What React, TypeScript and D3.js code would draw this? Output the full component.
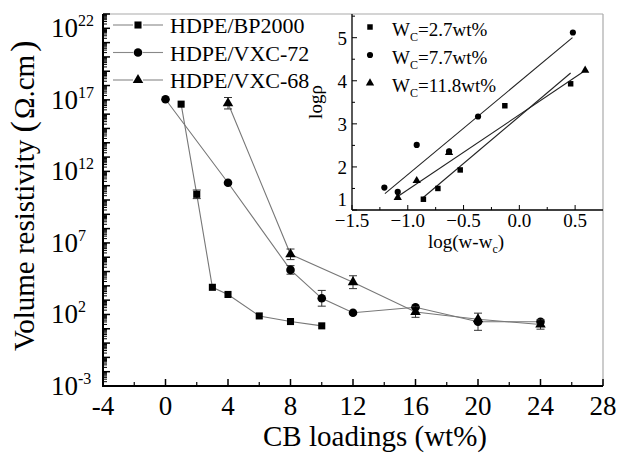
import React from "react";
import * as d3 from "d3";

// --- main chart data (volume resistivity, ohm.cm) ---
const bpX = [1, 2, 3, 4, 6, 8, 10];
const bpY = [5.0e16, 2.5e10, 7.9e3, 2.5e3, 79, 32, 16];
const bpErr = [0, 0.3, 0, 0, 0, 0, 0]; // decades

const v72X = [0, 4, 8, 10, 12, 16, 20, 24];
const v72Y = [1.1e17, 1.6e11, 1.3e5, 1.35e3, 132, 316, 31, 31];
const v72Err = [0, 0, 0.3, 0.55, 0, 0, 0.6, 0];

const v68X = [4, 8, 12, 16, 20, 24];
const v68Y = [5.8e16, 1.6e6, 1.8e4, 148, 46, 20];
const v68Err = [0.4, 0.37, 0.45, 0.37, 0, 0.33];

const xTicks = [-4, 0, 4, 8, 12, 16, 20, 24, 28];
const yTickExp = [-3, 2, 7, 12, 17, 22];

// --- inset data (log rho vs log(w - wc)) ---
const sqX = [-0.86, -0.73, -0.53, -0.13, 0.46];
const sqY = [1.25, 1.5, 1.93, 3.42, 3.93];
const ciX = [-1.21, -1.09, -0.92, -0.63, -0.37, 0.48];
const ciY = [1.52, 1.42, 2.51, 2.36, 3.17, 5.12];
const trX = [-1.09, -0.92, -0.63, 0.59];
const trY = [1.29, 1.68, 2.33, 4.24];
const sqFitX = [-0.88, 0.46];
const sqFitY = [1.25, 4.18];
const ciFitX = [-1.205, 0.476];
const ciFitY = [1.38, 5.0];
const trFitX = [-1.08, 0.58];
const trFitY = [1.33, 4.22];
const insetXTicks = [-1.5, -1.0, -0.5, 0.0, 0.5];
const insetYTicks = [1, 2, 3, 4, 5];

const FONT = "'Liberation Serif', 'Times New Roman', serif";

const sym = (type: d3.SymbolType, size: number) => d3.symbol().type(type).size(size)() || "";

export default function App() {
  const W = 619, H = 455;
  const left = 103, right = 603, top = 14, bottom = 386;
  const x = d3.scaleLinear().domain([-4, 28]).range([left, right]);
  const y = d3.scaleLog().domain([1e-3, 1e23]).range([bottom, top]);

  const ix = d3.scaleLinear().domain([-1.5, 0.75]).range([352, right]);
  const iy = d3.scaleLinear().domain([1, 5.55]).range([210, top]);

  const line = (xs: number[], ys: number[]) =>
    d3.line<number>().x((_, i) => x(xs[i])).y(d => y(d))(ys) || "";
  const iline = (xs: number[], ys: number[]) =>
    d3.line<number>().x((_, i) => ix(xs[i])).y(d => iy(d))(ys) || "";

  const series = [
    { name: "HDPE/BP2000", xs: bpX, ys: bpY, err: bpErr, shape: sym(d3.symbolSquare, 50) },
    { name: "HDPE/VXC-72", xs: v72X, ys: v72Y, err: v72Err, shape: sym(d3.symbolCircle, 58) },
    { name: "HDPE/VXC-68", xs: v68X, ys: v68Y, err: v68Err, shape: sym(d3.symbolTriangle, 48) },
  ];

  // minor log ticks
  const minorY: number[] = [];
  for (let e = -3; e < 23; e++) {
    for (let m = 2; m <= 9; m++) minorY.push(m * Math.pow(10, e));
  }
  const decadeY = d3.range(-3, 24).map(e => Math.pow(10, e));
  const minorX = d3.range(-2, 28, 4);

  const inset = [
    { label: "2.7wt%", xs: sqX, ys: sqY, fx: sqFitX, fy: sqFitY, shape: sym(d3.symbolSquare, 30) },
    { label: "7.7wt%", xs: ciX, ys: ciY, fx: ciFitX, fy: ciFitY, shape: sym(d3.symbolCircle, 30) },
    { label: "11.8wt%", xs: trX, ys: trY, fx: trFitX, fy: trFitY, shape: sym(d3.symbolTriangle, 30) },
  ];
  const iMinorX = [-1.25, -0.75, -0.25, 0.25];
  const iMinorY = [1.5, 2.5, 3.5, 4.5, 5.5];

  return (
    <svg width={W} height={H} style={{ position: "absolute", left: 0, top: 0, background: "#fff" }}
      fontFamily={FONT}>
      {/* frame */}
      <line x1={left} x2={right} y1={top} y2={top} stroke="#aaa" strokeWidth={1.2} />
      <line x1={right} x2={right} y1={top} y2={bottom} stroke="#aaa" strokeWidth={1.2} />

      {/* series lines and error bars */}
      {series.map(s => (
        <g key={s.name}>
          <path d={line(s.xs, s.ys)} fill="none" stroke="#777" strokeWidth={1.1} />
          {s.ys.map((v, i) => {
            const e = s.err[i];
            if (!e) return null;
            const cx = x(s.xs[i]);
            const lo = y(v / Math.pow(10, e));
            const hi = y(v * Math.pow(10, e));
            return (
              <g key={i} stroke="#333" strokeWidth={1}>
                <line x1={cx} x2={cx} y1={lo} y2={hi} />
                <line x1={cx - 4} x2={cx + 4} y1={lo} y2={lo} />
                <line x1={cx - 4} x2={cx + 4} y1={hi} y2={hi} />
              </g>
            );
          })}
          {s.ys.map((v, i) => (
            <path key={"m" + i} d={s.shape} transform={`translate(${x(s.xs[i])},${y(v)})`} fill="#000" />
          ))}
        </g>
      ))}

      {/* axes */}
      <line x1={left} x2={left} y1={top} y2={bottom + 1} stroke="#000" strokeWidth={2} />
      <line x1={left - 1} x2={right} y1={bottom} y2={bottom} stroke="#000" strokeWidth={2} />
      {minorY.map((v, i) => (
        <line key={"my" + i} x1={left} x2={left + 4} y1={y(v)} y2={y(v)} stroke="#000" strokeWidth={1} />
      ))}
      {decadeY.map((v, i) => (
        <line key={"dy" + i} x1={left} x2={left + 7} y1={y(v)} y2={y(v)} stroke="#000" strokeWidth={1.5} />
      ))}
      {yTickExp.map(e => (
        <text key={"ty" + e} x={51} y={y(Math.pow(10, e)) + 9} fontSize={27} fill="#000">
          10<tspan dy={-11} fontSize={16}>{e}</tspan>
        </text>
      ))}
      {xTicks.map(t => (
        <g key={"tx" + t}>
          <line x1={x(t)} x2={x(t)} y1={bottom} y2={bottom - 7} stroke="#000" strokeWidth={1.5} />
          <text x={x(t)} y={415} fontSize={27} textAnchor="middle" fill="#000">{t}</text>
        </g>
      ))}
      {minorX.map(t => (
        <line key={"mx" + t} x1={x(t)} x2={x(t)} y1={bottom} y2={bottom - 4} stroke="#000" strokeWidth={1.2} />
      ))}

      {/* axis titles */}
      <text x={375} y={446} fontSize={29} textAnchor="middle" fill="#000">CB loadings (wt%)</text>
      <text transform="translate(34,351) rotate(-90)" fontSize={29} fill="#000">
        Volume resistivity <tspan fontSize={34}>(</tspan><tspan dx={2}>Ω.cm</tspan><tspan dx={3} fontSize={34}>)</tspan>
      </text>

      {/* legend */}
      {series.map((s, i) => {
        const ly = 25 + i * 27.5;
        return (
          <g key={"lg" + i}>
            <line x1={113} x2={133} y1={ly} y2={ly} stroke="#888" strokeWidth={1.1} />
            <line x1={143} x2={163} y1={ly} y2={ly} stroke="#888" strokeWidth={1.1} />
            <path d={s.shape} transform={`translate(138,${ly})`} fill="#000" />
            <text x={170} y={ly + 8} fontSize={22} fill="#000">{s.name}</text>
          </g>
        );
      })}

      {/* inset */}
      <rect x={352} y={top + 1} width={right - 353} height={210 - top - 1} fill="#fff" />
      {inset.map((s, k) => (
        <g key={"in" + k}>
          <path d={iline(s.fx, s.fy)} fill="none" stroke="#222" strokeWidth={1.1} />
          {s.ys.map((v, i) => (
            <path key={i} d={s.shape} transform={`translate(${ix(s.xs[i])},${iy(v)})`} fill="#000" />
          ))}
        </g>
      ))}
      <line x1={352} x2={352} y1={top} y2={210} stroke="#000" strokeWidth={1.3} />
      <line x1={352} x2={right} y1={210} y2={210} stroke="#000" strokeWidth={1.3} />
      {insetXTicks.map(t => (
        <g key={"ixt" + t}>
          <line x1={ix(t)} x2={ix(t)} y1={210} y2={205} stroke="#000" />
          <text x={ix(t)} y={227} fontSize={19} textAnchor="middle" fill="#000">{d3.format(".1f")(t)}</text>
        </g>
      ))}
      {iMinorX.map(t => (
        <line key={"imx" + t} x1={ix(t)} x2={ix(t)} y1={210} y2={207} stroke="#000" />
      ))}
      {insetYTicks.map(t => (
        <g key={"iyt" + t}>
          <line x1={352} x2={357} y1={iy(t)} y2={iy(t)} stroke="#000" />
          <text x={347} y={iy(t) + (t === 1 ? -4 : 7)} fontSize={19} textAnchor="end" fill="#000">{t}</text>
        </g>
      ))}
      {iMinorY.map(t => (
        <line key={"imy" + t} x1={352} x2={355} y1={iy(t)} y2={iy(t)} stroke="#000" />
      ))}
      <text x={428} y={248} fontSize={19} fill="#000">
        log(w-w<tspan dy={5} fontSize={12}>c</tspan><tspan dy={-5}>)</tspan>
      </text>
      <text transform="translate(322,102) rotate(-90)" fontSize={19} textAnchor="middle" fill="#000">logρ</text>

      {/* inset legend */}
      {inset.map((s, i) => {
        const ly = 27 + i * 28;
        return (
          <g key={"ilg" + i}>
            <path d={s.shape} transform={`translate(370,${ly})`} fill="#000" />
            <text x={392} y={ly + 9} fontSize={19} fill="#000">
              W<tspan dy={5} fontSize={12}>C</tspan><tspan dy={-5}>={s.label}</tspan>
            </text>
          </g>
        );
      })}
    </svg>
  );
}
